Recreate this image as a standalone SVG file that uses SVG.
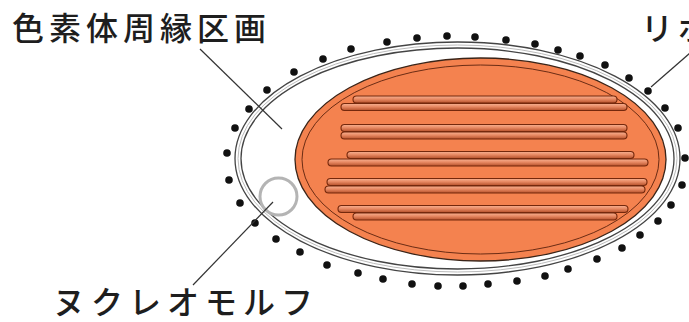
<svg xmlns="http://www.w3.org/2000/svg" width="689" height="322" viewBox="0 0 689 322">
  <defs>
    <linearGradient id="barFill" x1="0" y1="0" x2="0" y2="1">
      <stop offset="0" stop-color="#f7b192"/>
      <stop offset="0.45" stop-color="#e88a64"/>
      <stop offset="1" stop-color="#b5502a"/>
    </linearGradient>
  </defs>
  <style>
    .label { font-family: "Noto Sans CJK JP", "Noto Sans", sans-serif; font-size: 32px; font-weight: 500; fill: #1e1e1e; }
    .leader { stroke: #333; stroke-width: 1.2; fill: none; }
    .membrane { fill: #fff; stroke: #444; stroke-width: 1.3; }
    .ribo { fill: #111; }
    .bar { fill: url(#barFill); stroke: #74280c; stroke-width: 1.1; }
  </style>

  <!-- plastid envelope: outer and inner membrane -->
  <g id="envelope">
    <ellipse class="membrane" cx="457.5" cy="158.5" rx="222.5" ry="116.5"/>
    <ellipse cx="457.5" cy="158.5" rx="219.5" ry="113.5" fill="none" stroke="#bbb" stroke-width="1"/>
    <ellipse class="membrane" cx="457.5" cy="158.5" rx="216.5" ry="110.5"/>
  </g>

  <!-- ribosomes on the outer surface -->
  <g id="ribosomes">
    <circle class="ribo" cx="227" cy="153" r="3.8"/>
    <circle class="ribo" cx="235" cy="128" r="3.8"/>
    <circle class="ribo" cx="249" cy="109" r="3.8"/>
    <circle class="ribo" cx="267" cy="90" r="3.8"/>
    <circle class="ribo" cx="294" cy="72" r="3.8"/>
    <circle class="ribo" cx="323" cy="59" r="3.8"/>
    <circle class="ribo" cx="351" cy="49" r="3.8"/>
    <circle class="ribo" cx="387" cy="42" r="3.8"/>
    <circle class="ribo" cx="417" cy="38" r="3.8"/>
    <circle class="ribo" cx="447" cy="36" r="3.8"/>
    <circle class="ribo" cx="475" cy="37" r="3.8"/>
    <circle class="ribo" cx="506" cy="40" r="3.8"/>
    <circle class="ribo" cx="535" cy="44" r="3.8"/>
    <circle class="ribo" cx="558" cy="50" r="3.8"/>
    <circle class="ribo" cx="580" cy="56" r="3.8"/>
    <circle class="ribo" cx="605" cy="65" r="3.8"/>
    <circle class="ribo" cx="629" cy="78" r="3.8"/>
    <circle class="ribo" cx="648" cy="91" r="3.8"/>
    <circle class="ribo" cx="665" cy="108" r="3.8"/>
    <circle class="ribo" cx="678" cy="128" r="3.8"/>
    <circle class="ribo" cx="685" cy="158" r="3.8"/>
    <circle class="ribo" cx="682" cy="185" r="3.8"/>
    <circle class="ribo" cx="671" cy="205" r="3.8"/>
    <circle class="ribo" cx="658" cy="221" r="3.8"/>
    <circle class="ribo" cx="640" cy="235" r="3.8"/>
    <circle class="ribo" cx="622" cy="248" r="3.8"/>
    <circle class="ribo" cx="597" cy="259" r="3.8"/>
    <circle class="ribo" cx="568" cy="269" r="3.8"/>
    <circle class="ribo" cx="545" cy="276" r="3.8"/>
    <circle class="ribo" cx="517" cy="281" r="3.8"/>
    <circle class="ribo" cx="488" cy="284" r="3.8"/>
    <circle class="ribo" cx="463" cy="286" r="3.8"/>
    <circle class="ribo" cx="438" cy="286" r="3.8"/>
    <circle class="ribo" cx="412" cy="284" r="3.8"/>
    <circle class="ribo" cx="383" cy="279" r="3.8"/>
    <circle class="ribo" cx="358" cy="273" r="3.8"/>
    <circle class="ribo" cx="327" cy="265" r="3.8"/>
    <circle class="ribo" cx="300" cy="252" r="3.8"/>
    <circle class="ribo" cx="276" cy="239" r="3.8"/>
    <circle class="ribo" cx="255" cy="223" r="3.8"/>
    <circle class="ribo" cx="240" cy="203" r="3.8"/>
    <circle class="ribo" cx="229" cy="180" r="3.8"/>
  </g>

  <!-- chloroplast with thylakoid stacks -->
  <g id="chloroplast">
    <ellipse cx="480.5" cy="159.5" rx="185.5" ry="101.5" fill="#f4824f" stroke="#3a2418" stroke-width="1.3"/>
    <ellipse cx="480.5" cy="159.5" rx="178.5" ry="94.5" fill="#f4824f" stroke="#6b2c14" stroke-width="1"/>
    <g id="thylakoids">
      <rect class="bar" x="353" y="96" width="264" height="7" rx="3.5"/>
      <rect class="bar" x="341" y="103.5" width="286" height="7" rx="3.5"/>
      <rect class="bar" x="341" y="124.5" width="286" height="7" rx="3.5"/>
      <rect class="bar" x="341" y="132" width="286" height="7" rx="3.5"/>
      <rect class="bar" x="347" y="151.5" width="287" height="7" rx="3.5"/>
      <rect class="bar" x="328" y="159" width="320" height="7" rx="3.5"/>
      <rect class="bar" x="327" y="178.5" width="320" height="7" rx="3.5"/>
      <rect class="bar" x="325" y="186" width="320" height="7" rx="3.5"/>
      <rect class="bar" x="338" y="205.5" width="290" height="7" rx="3.5"/>
      <rect class="bar" x="353" y="213" width="264" height="7" rx="3.5"/>
    </g>
  </g>

  <!-- nucleomorph -->
  <g id="nucleomorph">
    <circle cx="278.5" cy="196.5" r="18.5" fill="none" stroke="#b4b4b4" stroke-width="3"/>
  </g>

  <!-- leader lines -->
  <g id="connectors">
    <line class="leader" x1="200" y1="49" x2="282" y2="129"/>
    <line class="leader" x1="193" y1="285" x2="273" y2="202"/>
    <line class="leader" x1="690" y1="53" x2="651" y2="87"/>
  </g>

  <!-- labels -->
  <g id="labels">
    <text class="label" x="12" y="40" letter-spacing="5">色素体周縁区画</text>
    <text class="label" x="53" y="314" letter-spacing="6">ヌクレオモルフ</text>
    <text class="label" x="641" y="40" letter-spacing="5">リボソーム</text>
  </g>
</svg>
